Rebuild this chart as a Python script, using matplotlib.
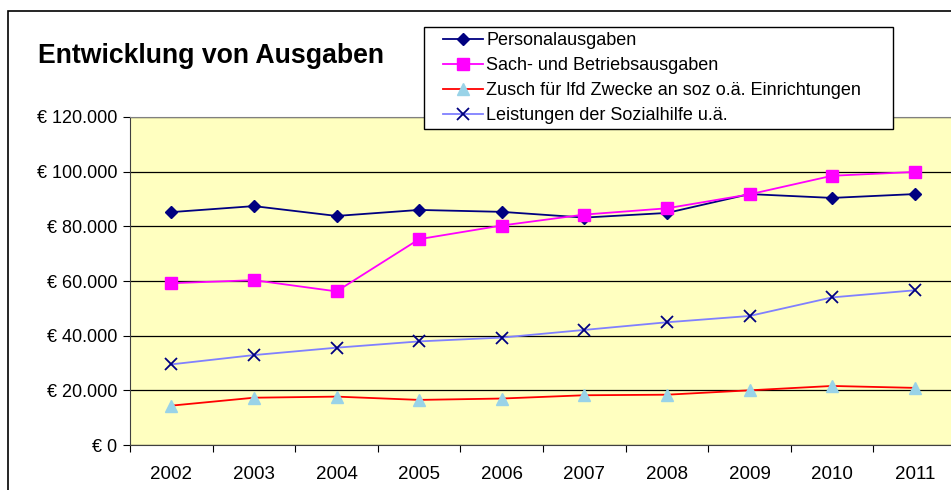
import matplotlib
matplotlib.use("Agg")
import matplotlib.pyplot as plt
from matplotlib.patches import Rectangle
from matplotlib.ticker import FuncFormatter, FixedLocator

plt.rcParams['font.family'] = ['Liberation Sans', 'DejaVu Sans']

years = ['2002', '2003', '2004', '2005', '2006', '2007', '2008', '2009', '2010', '2011']
personal = [85200, 87400, 83800, 86000, 85300, 83200, 84900, 91800, 90400, 91800]
sach = [59200, 60300, 56200, 75300, 80300, 84300, 86600, 91700, 98500, 99900]
zusch = [14400, 17300, 17700, 16500, 17000, 18200, 18400, 20000, 21600, 20900]
leistungen = [29500, 32900, 35600, 37900, 39300, 42100, 44900, 47200, 54000, 56600]
labels = ['Personalausgaben', 'Sach- und Betriebsausgaben',
          'Zusch für lfd Zwecke an soz o.ä. Einrichtungen', 'Leistungen der Sozialhilfe u.ä.']
yticks = [0, 20000, 40000, 60000, 80000, 100000, 120000]

W, H = 951, 490
fig = plt.figure(figsize=(W / 100, H / 100), dpi=100)
fig.patch.set_facecolor('white')
fig.patches.append(Rectangle((8 / W, -0.1), 1.2, (H - 11) / H + 0.1, transform=fig.transFigure,
                             fill=False, edgecolor='black', linewidth=1.2))

left, right, top, bottom = 130, 956, 117, 445
ax = fig.add_axes([left / W, 1 - bottom / H, (right - left) / W, (bottom - top) / H])
ax.set_facecolor('#FFFFC0')

x = list(range(len(years)))
ax.plot(x, personal, color='#000080', marker='D', markersize=6.5, linewidth=1.3, label=labels[0], zorder=4)
ax.plot(x, sach, color='#FF00FF', marker='s', markersize=8.5, linewidth=1.3, label=labels[1], zorder=5)
ax.plot(x, zusch, color='#FF0000', marker='^', markersize=9, markerfacecolor='#99D3E8',
        markeredgecolor='#99D3E8', linewidth=1.3, label=labels[2], zorder=4)
ax.plot(x, leistungen, color='#8080FF', marker='x', markersize=8, markeredgecolor='#000080',
        markeredgewidth=1.3, linewidth=1.3, label=labels[3], zorder=4)

ax.set_xlim(-0.5, len(years) - 0.5)
ax.set_ylim(0, 120000)
ax.yaxis.set_major_locator(FixedLocator(yticks))
ax.yaxis.set_major_formatter(FuncFormatter(lambda v, p: '€ ' + f'{int(v):,}'.replace(',', '.')))
ax.grid(axis='y', color='black', linewidth=0.9)
ax.set_axisbelow(True)

ax.set_xticks([i - 0.5 for i in range(len(years) + 1)])
ax.set_xticklabels([])
ax.set_xticks(x, minor=True)
ax.set_xticklabels(years, minor=True)
ax.tick_params(axis='x', which='minor', length=0, pad=15, labelsize=13.5)
ax.tick_params(axis='x', which='major', length=5, direction='out', color='black')
ax.tick_params(axis='y', length=5, direction='out', labelsize=13, pad=4)

ax.spines['right'].set_visible(False)
ax.spines['top'].set_color('#808080')
ax.spines['left'].set_color('#404040')
ax.spines['bottom'].set_color('#404040')

fig.text(38 / W, 1 - 56 / H, 'Entwicklung von Ausgaben', fontsize=19.2, fontweight='bold',
         va='center', ha='left')

# legend box
box = Rectangle((424 / W, 1 - 129 / H), (893 - 424) / W, (129 - 27) / H, transform=fig.transFigure,
                facecolor='white', edgecolor='black', linewidth=1.0, zorder=9)
fig.patches.append(box)
leg = fig.legend(loc='upper left', bbox_to_anchor=(443 / W, 1 - 32 / H), frameon=False,
                 fontsize=13, handlelength=2.2, handletextpad=0.2, labelspacing=0.45,
                 borderpad=0, borderaxespad=0)
leg.set_zorder(10)

fig.savefig('out.png', dpi=100)
